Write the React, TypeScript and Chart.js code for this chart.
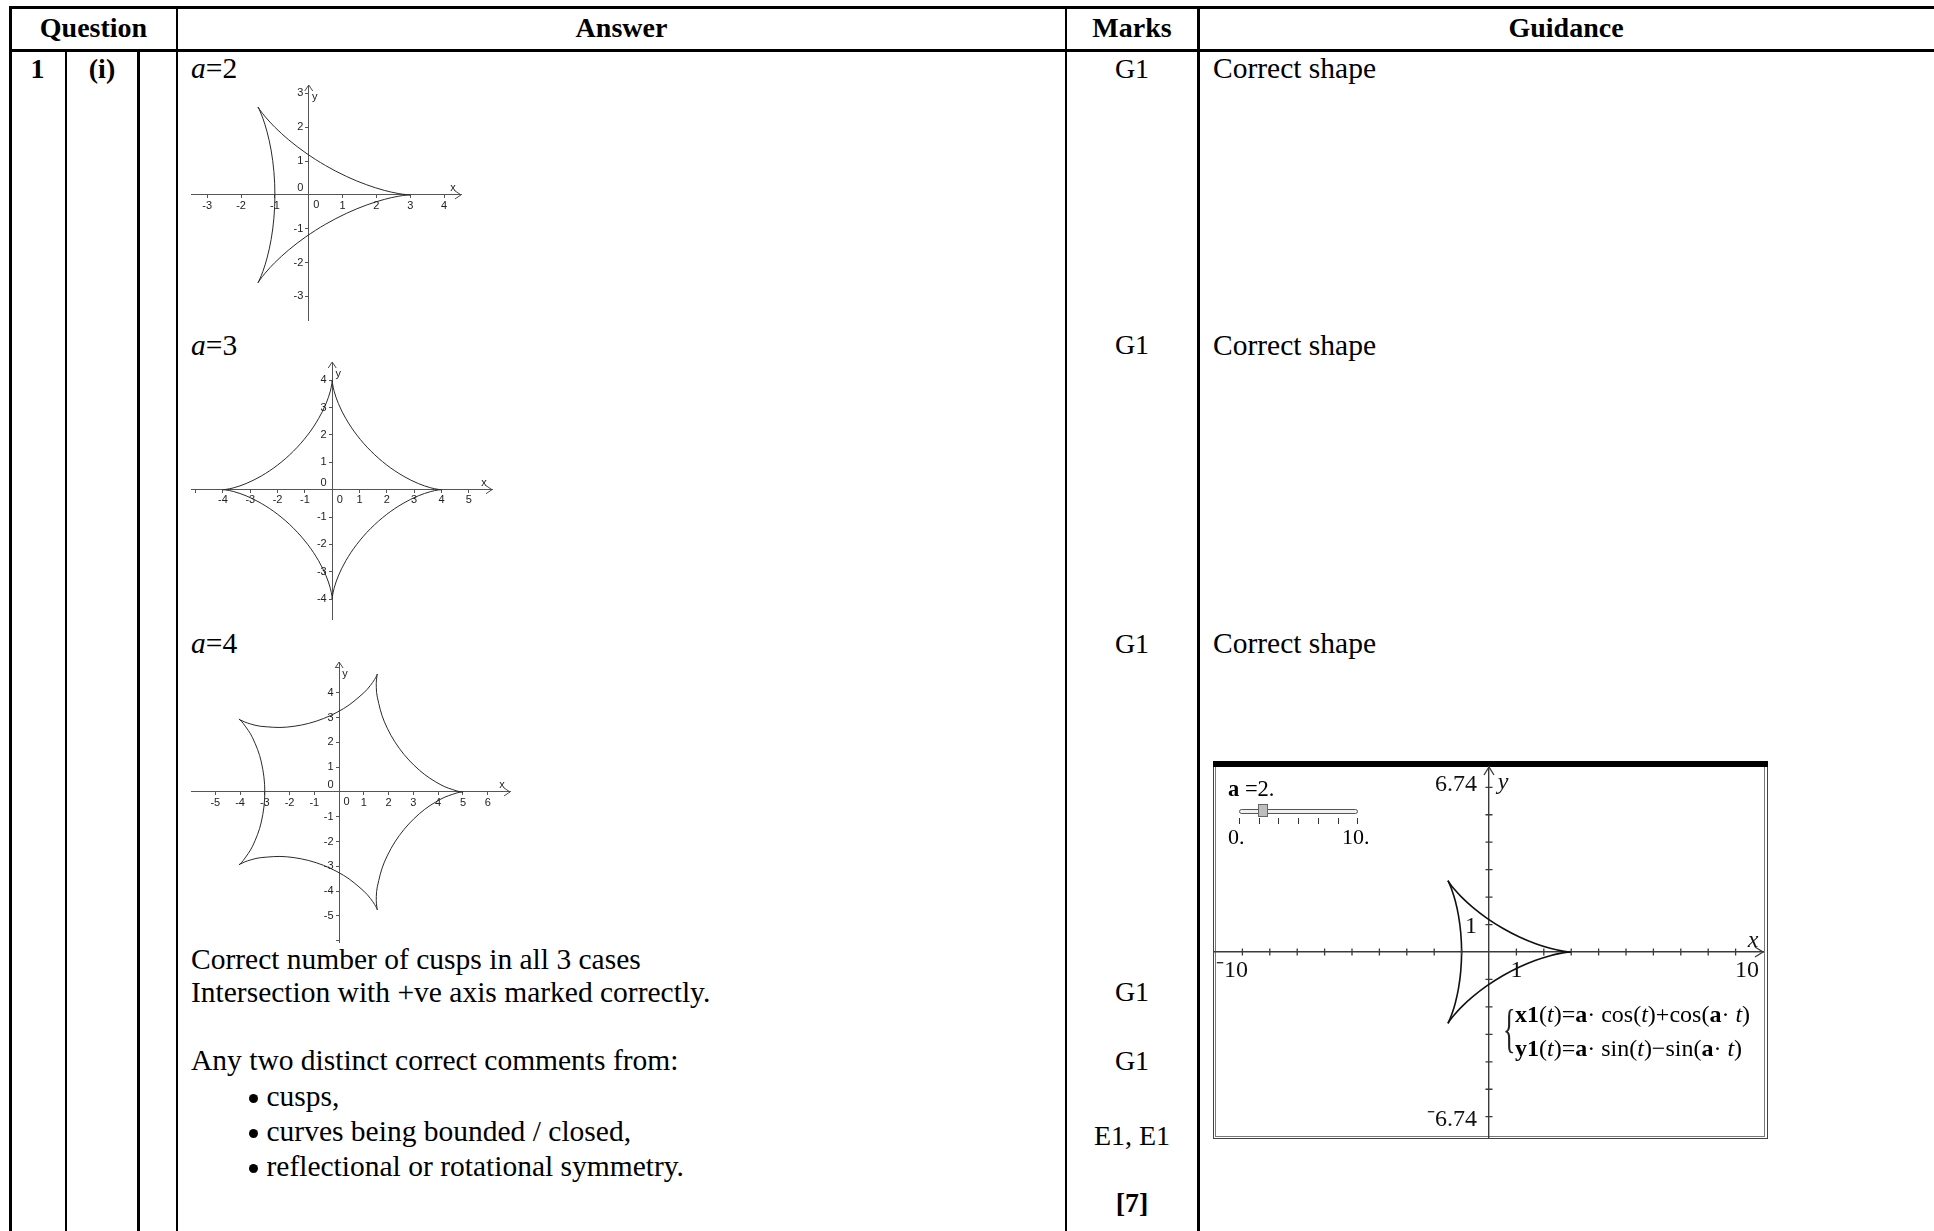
import React, { useEffect, useRef } from "react";
import { Chart, registerables } from "chart.js";

Chart.register(...registerables);

type Pt = [number, number];

const SERIF = '"Liberation Serif", "Times New Roman", Times, serif';
const SANS = '"Liberation Sans", Arial, Helvetica, sans-serif';

// ---------------- data ----------------
// a = 2 : three arcs between the cusps
const a2Arc1: Pt[] = [[3, 0], [2.909, 0.005], [2.645, 0.041], [2.232, 0.134], [1.706, 0.301], [1.112, 0.547], [0.5, 0.866], [-0.082, 1.237], [-0.592, 1.628], [-1, 2], [-1.287, 2.312], [-1.45, 2.522], [-1.5, 2.598]];
const a2Arc2: Pt[] = [[-1.5, 2.598], [-1.459, 2.517], [-1.358, 2.27], [-1.232, 1.866], [-1.113, 1.327], [-1.03, 0.689], [-1, 0], [-1.03, -0.689], [-1.113, -1.327], [-1.232, -1.866], [-1.358, -2.27], [-1.459, -2.517], [-1.5, -2.598]];
const a2Arc3: Pt[] = [[-1.5, -2.598], [-1.45, -2.522], [-1.287, -2.312], [-1, -2], [-0.592, -1.628], [-0.082, -1.237], [0.5, -0.866], [1.112, -0.547], [1.706, -0.301], [2.232, -0.134], [2.645, -0.041], [2.909, -0.005], [3, 0]];

// a = 3 : four arcs
const a3Arc1: Pt[] = [[4, 0], [3.898, 0.009], [3.605, 0.069], [3.154, 0.224], [2.598, 0.5], [1.997, 0.902], [1.414, 1.414], [0.902, 1.997], [0.5, 2.598], [0.224, 3.154], [0.069, 3.605], [0.009, 3.898], [0, 4]];
const a3Arc2: Pt[] = [[0, 4], [-0.009, 3.898], [-0.069, 3.605], [-0.224, 3.154], [-0.5, 2.598], [-0.902, 1.997], [-1.414, 1.414], [-1.997, 0.902], [-2.598, 0.5], [-3.154, 0.224], [-3.605, 0.069], [-3.898, 0.009], [-4, 0]];
const a3Arc3: Pt[] = [[-4, 0], [-3.898, -0.009], [-3.605, -0.069], [-3.154, -0.224], [-2.598, -0.5], [-1.997, -0.902], [-1.414, -1.414], [-0.902, -1.997], [-0.5, -2.598], [-0.224, -3.154], [-0.069, -3.605], [-0.009, -3.898], [0, -4]];
const a3Arc4: Pt[] = [[0, -4], [0.009, -3.898], [0.069, -3.605], [0.224, -3.154], [0.5, -2.598], [0.902, -1.997], [1.414, -1.414], [1.997, -0.902], [2.598, -0.5], [3.154, -0.224], [3.605, -0.069], [3.898, -0.009], [4, 0]];

// a = 4 : five arcs
const a4Arc1: Pt[] = [[5, 0], [4.939, 0.005], [4.76, 0.038], [4.113, 0.285], [3.255, 0.865], [2.427, 1.763], [1.828, 2.828], [1.542, 3.824], [1.502, 4.22], [1.507, 4.515], [1.531, 4.696], [1.545, 4.755]];
const a4Arc2: Pt[] = [[1.545, 4.755], [1.522, 4.699], [1.435, 4.539], [1.265, 4.297], [1, 4], [0.183, 3.363], [-0.927, 2.853], [-2.125, 2.613], [-3.16, 2.648], [-3.549, 2.733], [-3.828, 2.828], [-3.993, 2.907], [-4.045, 2.939]];
const a4Arc3: Pt[] = [[-4.045, 2.939], [-3.998, 2.899], [-3.873, 2.767], [-3.495, 2.187], [-3.142, 1.214], [-3, 0], [-3.142, -1.214], [-3.495, -2.187], [-3.873, -2.767], [-3.998, -2.899], [-4.045, -2.939]];
const a4Arc4: Pt[] = [[-4.045, -2.939], [-3.993, -2.907], [-3.828, -2.828], [-3.549, -2.733], [-3.16, -2.648], [-2.125, -2.613], [-0.927, -2.853], [0.183, -3.363], [1, -4], [1.265, -4.297], [1.435, -4.539], [1.522, -4.699], [1.545, -4.755]];
const a4Arc5: Pt[] = [[1.545, -4.755], [1.531, -4.696], [1.507, -4.515], [1.502, -4.22], [1.542, -3.824], [1.828, -2.828], [2.427, -1.763], [3.255, -0.865], [4.113, -0.285], [4.76, -0.038], [4.939, -0.005], [5, 0]];

// axis ranges and labelled ticks
const a2XRange = [-3.48, 4.5];
const a2YRange = [-3.7, 3.25];
const a2XTicks = [-3, -2, -1, 1, 2, 3, 4];
const a2YTicks = [-3, -2, -1, 1, 2, 3];

const a3XRange = [-5.17, 5.85];
const a3YRange = [-4.73, 4.67];
const a3XTicks = [-4, -3, -2, -1, 1, 2, 3, 4, 5];
const a3YTicks = [-4, -3, -2, -1, 1, 2, 3, 4];

const a4XRange = [-5.98, 6.9];
const a4YRange = [-6.05, 5.24];
const a4XTicks = [-5, -4, -3, -2, -1, 1, 2, 3, 4, 5, 6];
const a4YTicks = [-5, -4, -3, -2, -1, 1, 2, 3, 4];

const tiXRange = [-10, 10];
const tiYRange = [-6.74, 6.74];
const tiXLabelVals = [-10, 1, 10];
const tiXLabelTexts = ["\u207B10", "1", "10"];
const tiYLabelVals = [6.74, 1, -6.74];
const tiYLabelTexts = ["6.74", "1", "\u207B6.74"];

// ---------------- chart helpers ----------------
const GEO_PAD = 10;
const TI_PAD = 6;
const GEO_FONT = 11;

function zeroPadding(scale: any) {
  scale.paddingLeft = 0;
  scale.paddingRight = 0;
  scale.paddingTop = 0;
  scale.paddingBottom = 0;
}

const geoDecor = {
  id: "geoDecor",
  afterDraw(chart: any, _args: any, opts: any) {
    const { ctx, chartArea: ca, scales } = chart;
    const ys = scales.y;
    const x0 = scales.x.getPixelForValue(0);
    const y0 = ys.getPixelForValue(0);
    ctx.save();
    ctx.strokeStyle = "#4a4a4a";
    ctx.lineWidth = 1;
    ctx.beginPath();
    ctx.moveTo(ca.right - 6, y0 - 4);
    ctx.lineTo(ca.right, y0);
    ctx.lineTo(ca.right - 6, y0 + 4);
    ctx.moveTo(x0 - 4, ca.top + 6);
    ctx.lineTo(x0, ca.top);
    ctx.lineTo(x0 + 4, ca.top + 6);
    ctx.stroke();
    ctx.fillStyle = "#222";
    ctx.font = `${GEO_FONT}px ${SANS}`;
    ctx.textBaseline = "middle";
    // y tick labels, right-aligned left of the axis
    ctx.textAlign = "right";
    const yt: number[] = (opts && opts.yTicks) || [];
    for (const t of ys.ticks) {
      if (!yt.includes(Number(t.value))) continue;
      ctx.fillText(String(t.value), x0 - 5.5, ys.getPixelForValue(t.value));
    }
    ctx.fillText("0", x0 - 5.5, y0 - 7);
    ctx.textAlign = "center";
    ctx.fillText("x", ca.right - 8, y0 - 7);
    ctx.fillText("y", x0 + 6, ca.top + 12);
    ctx.fillText("0", x0 + 7.5, y0 + 10);
    ctx.restore();
  },
};

function geoConfig(arcs: Pt[][], xr: number[], yr: number[], xt: number[], yt: number[]): any {
  const tickFont = { family: SANS, size: GEO_FONT };
  const axisCommon = {
    type: "linear",
    grid: { display: true, drawOnChartArea: false, drawTicks: true, tickLength: 3, tickColor: "#555", lineWidth: 1 },
    border: { display: true, color: "#555", width: 1 },
    afterFit: zeroPadding,
  };
  return {
    type: "line",
    data: {
      datasets: arcs.map((arc) => ({
        data: arc.map(([x, y]) => ({ x, y })),
        borderColor: "#2a2a2a",
        borderWidth: 1,
        pointRadius: 0,
        tension: 0.35,
        fill: false,
      })),
    },
    options: {
      animation: false,
      responsive: false,
      events: [],
      layout: { padding: GEO_PAD },
      plugins: { legend: { display: false }, tooltip: { enabled: false }, geoDecor: { yTicks: yt } },
      scales: {
        x: {
          ...axisCommon,
          min: xr[0],
          max: xr[1],
          position: { y: 0 },
          ticks: {
            stepSize: 1, includeBounds: false, autoSkip: false, maxRotation: 0, minRotation: 0,
            padding: 1, color: "#222", font: tickFont,
            callback: (v: any) => (xt.includes(Number(v)) ? String(v) : ""),
          },
        },
        y: {
          ...axisCommon,
          min: yr[0],
          max: yr[1],
          position: { x: 0 },
          ticks: { display: false, stepSize: 1, includeBounds: false, autoSkip: false },
        },
      },
    },
    plugins: [geoDecor],
  };
}

const tiDecor = {
  id: "tiDecor",
  afterDraw(chart: any) {
    const { ctx, chartArea: ca, scales } = chart;
    const xs = scales.x;
    const ys = scales.y;
    const x0 = xs.getPixelForValue(0);
    const y0 = ys.getPixelForValue(0);
    ctx.save();
    ctx.strokeStyle = "#3a3a3a";
    ctx.lineWidth = 1.3;
    ctx.beginPath();
    for (const t of xs.ticks) {
      if (t.value === 0 || Math.abs(t.value) >= 10) continue;
      const px = xs.getPixelForValue(t.value);
      ctx.moveTo(px, y0 - 3.5);
      ctx.lineTo(px, y0 + 3.5);
    }
    for (const t of ys.ticks) {
      if (t.value === 0) continue;
      const py = ys.getPixelForValue(t.value);
      ctx.moveTo(x0 - 3.5, py);
      ctx.lineTo(x0 + 3.5, py);
    }
    ctx.moveTo(ca.right - 8, y0 - 5);
    ctx.lineTo(ca.right, y0);
    ctx.lineTo(ca.right - 8, y0 + 5);
    ctx.moveTo(x0 - 5, ca.top + 8);
    ctx.lineTo(x0, ca.top);
    ctx.lineTo(x0 + 5, ca.top + 8);
    ctx.stroke();

    ctx.fillStyle = "#111";
    ctx.textBaseline = "middle";
    ctx.font = `24px ${SERIF}`;
    tiXLabelVals.forEach((v, i) => {
      const px = xs.getPixelForValue(v);
      if (v === xs.min) {
        ctx.textAlign = "left";
        ctx.fillText(tiXLabelTexts[i], px + 1, y0 + 19);
      } else if (v === xs.max) {
        ctx.textAlign = "right";
        ctx.fillText(tiXLabelTexts[i], px - 4, y0 + 19);
      } else {
        ctx.textAlign = "center";
        ctx.fillText(tiXLabelTexts[i], px, y0 + 19);
      }
    });
    ctx.textAlign = "right";
    tiYLabelVals.forEach((v, i) => {
      const py = ys.getPixelForValue(v);
      let yy = py + 2;
      if (v === ys.max) yy = py + 18;
      if (v === ys.min) yy = py - 17;
      ctx.fillText(tiYLabelTexts[i], x0 - 12, yy);
    });
    ctx.font = `italic 24px ${SERIF}`;
    ctx.textAlign = "center";
    ctx.fillText("x", ca.right - 10, y0 - 11);
    ctx.fillText("y", x0 + 14, ca.top + 16);
    ctx.restore();
  },
};

function tiConfig(arcs: Pt[][]): any {
  const axisCommon = {
    type: "linear",
    grid: { display: false },
    border: { display: true, color: "#3a3a3a", width: 1.4 },
    afterFit: zeroPadding,
  };
  return {
    type: "line",
    data: {
      datasets: arcs.map((arc) => ({
        data: arc.map(([x, y]) => ({ x, y })),
        borderColor: "#111",
        borderWidth: 1.6,
        pointRadius: 0,
        tension: 0.35,
        fill: false,
      })),
    },
    options: {
      animation: false,
      responsive: false,
      events: [],
      layout: { padding: TI_PAD },
      plugins: { legend: { display: false }, tooltip: { enabled: false } },
      scales: {
        x: { ...axisCommon, min: tiXRange[0], max: tiXRange[1], position: { y: 0 }, ticks: { display: false, stepSize: 1, includeBounds: false } },
        y: { ...axisCommon, min: tiYRange[0], max: tiYRange[1], position: { x: 0 }, ticks: { display: false, stepSize: 1, includeBounds: false } },
      },
    },
    plugins: [tiDecor],
  };
}

function PlotCanvas(props: { left: number; top: number; width: number; height: number; pad: number; make: () => any }) {
  const { left, top, width, height, pad, make } = props;
  const ref = useRef<HTMLCanvasElement | null>(null);
  useEffect(() => {
    if (!ref.current) return;
    const chart = new Chart(ref.current, make());
    return () => chart.destroy();
  }, []);
  const w = width + 2 * pad;
  const h = height + 2 * pad;
  return (
    <canvas
      ref={ref}
      width={w}
      height={h}
      style={{ position: "absolute", left: left - pad, top: top - pad, width: w, height: h }}
    />
  );
}

// ---------------- page pieces ----------------
function Txt(props: { x: number; cy: number; size?: number; bold?: boolean; align?: "left" | "center" | "right"; children: React.ReactNode }) {
  const size = props.size ?? 28;
  const align = props.align ?? "left";
  const style: React.CSSProperties = {
    position: "absolute",
    top: props.cy - size * 0.54,
    fontSize: size,
    lineHeight: `${size}px`,
    whiteSpace: "nowrap",
    fontWeight: props.bold ? "bold" : "normal",
    fontFamily: SERIF,
    color: "#000",
  };
  if (align === "left") style.left = props.x;
  else if (align === "center") {
    style.left = props.x - 300;
    style.width = 600;
    style.textAlign = "center";
  } else {
    style.left = props.x - 600;
    style.width = 600;
    style.textAlign = "right";
  }
  return <div style={style}>{props.children}</div>;
}

function Rule(props: { left: number; top: number; width: number; height: number }) {
  return <div style={{ position: "absolute", background: "#000", ...props }} />;
}

function Bullet(props: { x: number; cy: number }) {
  return (
    <div
      style={{
        position: "absolute",
        left: props.x - 4.5,
        top: props.cy - 4.5,
        width: 9,
        height: 9,
        borderRadius: "50%",
        background: "#000",
      }}
    />
  );
}

const PAGE_H = 1231;
const BODY = 29.5;

export default function App() {
  const colX = [65.7, 138.3, 176.7, 1065.7, 1198.3];
  const marksX = 1132;
  const guideX = 1213;
  const ansX = 191;

  return (
    <div
      style={{
        position: "absolute",
        left: 0,
        top: 0,
        width: 1934,
        height: PAGE_H,
        overflow: "hidden",
        background: "#fff",
        fontFamily: SERIF,
      }}
    >
      {/* table rules */}
      <Rule left={9} top={5.5} width={1925} height={3} />
      <Rule left={9} top={48.5} width={1925} height={3} />
      <Rule left={9} top={5.5} width={2.5} height={PAGE_H} />
      <Rule left={colX[0] - 1} top={50} width={2.3} height={PAGE_H} />
      <Rule left={colX[1] - 1} top={50} width={2.3} height={PAGE_H} />
      <Rule left={colX[2] - 1} top={5.5} width={2.3} height={PAGE_H} />
      <Rule left={colX[3] - 1} top={5.5} width={2.3} height={PAGE_H} />
      <Rule left={colX[4] - 1} top={5.5} width={2.3} height={PAGE_H} />

      {/* header */}
      <Txt x={93.5} cy={29.5} bold align="center">Question</Txt>
      <Txt x={621.5} cy={29.5} bold align="center">Answer</Txt>
      <Txt x={marksX} cy={29.5} bold align="center">Marks</Txt>
      <Txt x={1566} cy={29.5} bold align="center">Guidance</Txt>

      {/* question number */}
      <Txt x={37.5} cy={70} bold align="center">1</Txt>
      <Txt x={102} cy={70} bold align="center">(i)</Txt>

      {/* answer column */}
      <Txt x={ansX} cy={70} size={BODY}><i>a</i>=2</Txt>
      <Txt x={ansX} cy={346.5} size={BODY}><i>a</i>=3</Txt>
      <Txt x={ansX} cy={645} size={BODY}><i>a</i>=4</Txt>
      <Txt x={ansX} cy={961} size={BODY}>Correct number of cusps in all 3 cases</Txt>
      <Txt x={ansX} cy={994} size={BODY}>Intersection with +ve axis marked correctly.</Txt>
      <Txt x={ansX} cy={1062} size={BODY}>Any two distinct correct comments from:</Txt>
      <Bullet x={253} cy={1098.5} />
      <Txt x={266.5} cy={1098} size={BODY}>cusps,</Txt>
      <Bullet x={253} cy={1133.5} />
      <Txt x={266.5} cy={1133} size={BODY}>curves being bounded / closed,</Txt>
      <Bullet x={253} cy={1168.5} />
      <Txt x={266.5} cy={1168} size={BODY}>reflectional or rotational symmetry.</Txt>

      {/* marks column */}
      <Txt x={marksX} cy={70} align="center">G1</Txt>
      <Txt x={marksX} cy={346.5} align="center">G1</Txt>
      <Txt x={marksX} cy={645} align="center">G1</Txt>
      <Txt x={marksX} cy={993} align="center">G1</Txt>
      <Txt x={marksX} cy={1062} align="center">G1</Txt>
      <Txt x={marksX} cy={1137} align="center">E1, E1</Txt>
      <Txt x={marksX} cy={1204} bold align="center">[7]</Txt>

      {/* guidance column */}
      <Txt x={guideX} cy={70} size={BODY}>Correct shape</Txt>
      <Txt x={guideX} cy={346.5} size={BODY}>Correct shape</Txt>
      <Txt x={guideX} cy={645} size={BODY}>Correct shape</Txt>

      {/* GeoGebra plots */}
      <PlotCanvas left={191} top={85} width={270} height={235} pad={GEO_PAD}
        make={() => geoConfig([a2Arc1, a2Arc2, a2Arc3], a2XRange, a2YRange, a2XTicks, a2YTicks)} />
      <PlotCanvas left={191} top={362} width={301} height={257} pad={GEO_PAD}
        make={() => geoConfig([a3Arc1, a3Arc2, a3Arc3, a3Arc4], a3XRange, a3YRange, a3XTicks, a3YTicks)} />
      <PlotCanvas left={191} top={662} width={319} height={280} pad={GEO_PAD}
        make={() => geoConfig([a4Arc1, a4Arc2, a4Arc3, a4Arc4, a4Arc5], a4XRange, a4YRange, a4XTicks, a4YTicks)} />

      {/* TI-Nspire screenshot */}
      <div style={{ position: "absolute", left: 1212.5, top: 761, width: 553, height: 376, border: "1px solid #444" }} />
      <div style={{ position: "absolute", left: 1215, top: 763, width: 548, height: 372, border: "1px solid #777" }} />
      <div style={{ position: "absolute", left: 1212.5, top: 761, width: 555, height: 6, background: "#000" }} />
      <PlotCanvas left={1215} top={767} width={548} height={370} pad={TI_PAD}
        make={() => tiConfig([a2Arc1, a2Arc2, a2Arc3])} />

      {/* slider */}
      <div style={{ position: "absolute", left: 1228, top: 790 - 12, fontSize: 22.5, lineHeight: "22px", fontFamily: SERIF, whiteSpace: "nowrap" }}>
        <b>a</b> =2.
      </div>
      <div style={{ position: "absolute", left: 1239, top: 809, width: 117, height: 3, border: "1px solid #555", borderRadius: 3, background: "#f0f0f0" }} />
      <div style={{ position: "absolute", left: 1258, top: 804, width: 8, height: 11, border: "1px solid #666", background: "#bdbdbd" }} />
      {[0, 1, 2, 3, 4, 5, 6].map((i) => (
        <div key={i} style={{ position: "absolute", left: 1239 + i * 19.7, top: 818, width: 1, height: 6, background: "#333" }} />
      ))}
      <div style={{ position: "absolute", left: 1228, top: 838 - 12, fontSize: 22, lineHeight: "22px", fontFamily: SERIF }}>0.</div>
      <div style={{ position: "absolute", left: 1342, top: 838 - 12, fontSize: 22, lineHeight: "22px", fontFamily: SERIF }}>10.</div>

      {/* parametric definition */}
      <div style={{ position: "absolute", left: 1503, top: 1003, fontSize: 52, lineHeight: "52px", fontFamily: SERIF, color: "#222", transform: "scaleX(0.5)", transformOrigin: "left top" }}>{"{"}</div>
      <div style={{ position: "absolute", left: 1515, top: 1015 - 13, fontSize: 24, lineHeight: "24px", fontFamily: SERIF, whiteSpace: "nowrap" }}>
        <b>x1</b>(<i>t</i>)=<b>a</b>· cos(<i>t</i>)+cos(<b>a</b>· <i>t</i>)
      </div>
      <div style={{ position: "absolute", left: 1515, top: 1049 - 13, fontSize: 24, lineHeight: "24px", fontFamily: SERIF, whiteSpace: "nowrap" }}>
        <b>y1</b>(<i>t</i>)=<b>a</b>· sin(<i>t</i>)−sin(<b>a</b>· <i>t</i>)
      </div>
    </div>
  );
}
